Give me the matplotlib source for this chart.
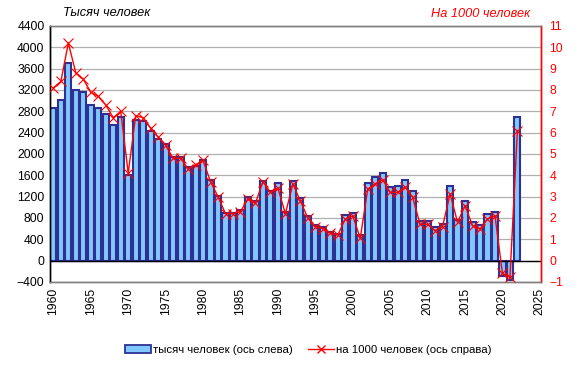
import numpy as np
import matplotlib.pyplot as plt
from matplotlib.lines import Line2D
from matplotlib.patches import Patch

plt.rcParams['font.family'] = ['Liberation Sans', 'DejaVu Sans']

years = list(range(1960, 2023))

# естественный прирост, тысяч человек (ось слева)
thousands = [
    2860, 3010, 3710, 3200, 3170, 2920, 2860, 2750, 2545, 2695,
    1612, 2640, 2625, 2430, 2287, 2190, 1940, 1940, 1762, 1775,
    1890, 1513, 1219, 888, 888, 956, 1200, 1125, 1488, 1313,
    1456, 906, 1488, 1175, 831, 669, 625, 544, 500, 856,
    888, 481, 1456, 1569, 1644, 1375, 1400, 1513, 1306, 738,
    738, 625, 688, 1394, 769, 1125, 719, 669, 875, 906,
    -281, -356, 2700,
]

# на 1000 человек (ось справа)
per_1000 = [
    8.1, 8.4, 10.2, 8.8, 8.5, 7.9, 7.7, 7.3, 6.7, 7.0,
    4.1, 6.8, 6.7, 6.2, 5.8, 5.4, 4.8, 4.8, 4.3, 4.5,
    4.7, 3.7, 3.0, 2.2, 2.2, 2.3, 2.9, 2.7, 3.7, 3.2,
    3.4, 2.2, 3.6, 2.8, 2.0, 1.6, 1.5, 1.3, 1.2, 1.95,
    2.1, 1.05, 3.35, 3.6, 3.8, 3.2, 3.2, 3.45, 2.97, 1.7,
    1.7, 1.41, 1.6, 3.13, 1.8, 2.58, 1.64, 1.48, 1.95, 2.1,
    -0.6, -0.78, 6.1,
]

left_ticks = list(range(-400, 4401, 400))
right_ticks = list(range(-1, 12))
x_ticks = list(range(1960, 2026, 5))

fs = 8.7
bar_face = '#80C8FF'
bar_edge = '#2E3192'

fig = plt.figure(figsize=(5.79, 3.68), dpi=100)
ax = fig.add_axes([50 / 579, 86 / 368, 491 / 579, 256 / 368])
ax2 = ax.twinx()

ax.bar(years, thousands, width=0.82, color=bar_face, edgecolor=bar_edge,
       linewidth=1.5, zorder=2)
ax.axhline(0, color='black', linewidth=1.0, zorder=3)

ax.set_ylim(-400, 4400)
ax.set_yticks(left_ticks)
ax.set_xlim(1959.55, 2025.15)
ax.set_xticks(x_ticks)
ax.set_xticklabels([str(t) for t in x_ticks], rotation=90)
ax.yaxis.grid(True, color='#B0B0B0', linewidth=0.9, zorder=0)
ax.set_axisbelow(True)
ax.tick_params(axis='both', length=0, labelsize=fs, pad=4)
ax.tick_params(axis='y', colors='black')

ax2.plot(years, per_1000, color='red', linewidth=1.0, marker='x',
         markersize=7, markeredgewidth=0.8, zorder=4)
ax2.set_ylim(-1, 11)
ax2.set_yticks(right_ticks)
ax2.tick_params(axis='y', length=0, labelsize=fs, labelcolor='red', pad=6)

for a in (ax, ax2):
    a.spines['left'].set_color('black')
    a.spines['top'].set_color('#808080')
    a.spines['bottom'].set_color('#808080')
    a.spines['right'].set_color('red')
    for s in a.spines.values():
        s.set_linewidth(1.0)

fig.text(63 / 579, 1 - 13 / 368, 'Тысяч человек', fontsize=fs + 0.5,
         style='italic', ha='left', va='center')
fig.text(530 / 579, 1 - 14 / 368, 'На 1000 человек', fontsize=fs + 0.5,
         style='italic', color='red', ha='right', va='center')

handles = [
    Patch(facecolor=bar_face, edgecolor=bar_edge, linewidth=1.3),
    Line2D([0], [0], color='red', linewidth=1.0, marker='x', markersize=6),
]
labels = ['тысяч человек (ось слева)', 'на 1000 человек (ось справа)']
fig.legend(handles, labels, loc='center', bbox_to_anchor=(308 / 579, 1 - 350 / 368),
           ncol=2, frameon=False, fontsize=8.2, handlelength=2.3,
           handletextpad=0.2, columnspacing=1.3, handleheight=0.7)

fig.savefig('out.png', dpi=100)
